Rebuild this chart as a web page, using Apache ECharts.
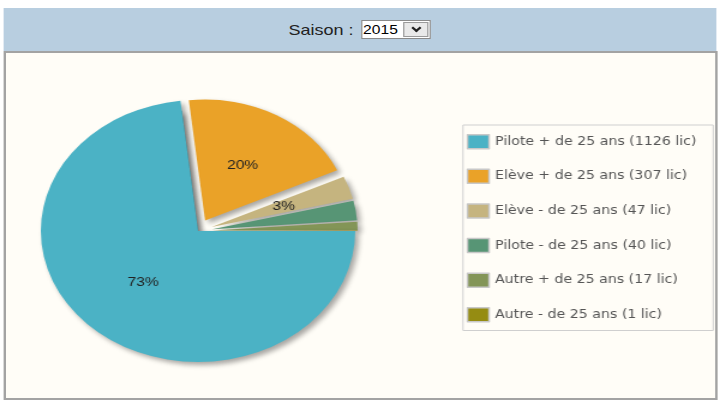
<!DOCTYPE html>
<html>
<head>
<meta charset="utf-8">
<title>Licences par catégorie</title>
<script src="https://cdn.jsdelivr.net/npm/echarts@6/dist/echarts.min.js"></script>
<style>
html, body { margin: 0; padding: 0; background: #fff; overflow: hidden; }
/* the reference is stretched sideways, so the whole page is drawn narrow and widened */
#page { position: absolute; left: 0; top: 0; width: 598px; height: 401px; transform: scaleX(1.2); transform-origin: 0 0; }
#head { position: absolute; left: 2.5px; top: 8px; width: 594px; height: 43px; background: #b8cee0;
	display: flex; align-items: center; justify-content: center;
	font-family: "Liberation Sans", Arial, sans-serif; font-size: 15px; color: #222; }
#head .lbl { margin-right: 6px; }
#head .sel { display: flex; height: 17px; border: 1px solid #8a8a8a; background: #fff; }
#head .val { width: 32px; font-size: 13px; line-height: 17px; padding-left: 1px; color: #000; }
#head .btn { width: 21px; margin: 1px; background: #e9e9e9; border: 1px solid #9a9a9a; box-sizing: border-box; position: relative; }
#head .btn span { position: absolute; left: 7px; top: 2px; width: 4px; height: 4px; border-right: 2px solid #222; border-bottom: 2px solid #222; transform: rotate(45deg); }
#panel { position: absolute; left: 3.3px; top: 51px; width: 594.5px; height: 349px; box-sizing: border-box;
	background: #fffdf7; border: 2px solid #a3a3a3; }
#chart { position: absolute; left: 0; top: 0; width: 598px; height: 401px; }
</style>
</head>
<body>
<div id="page">
	<div id="head">
		<span class="lbl">Saison :</span>
		<div class="sel"><div class="val">2015</div><div class="btn"><span></span></div></div>
	</div>
	<div id="panel"></div>
	<div id="chart"></div>
</div>
<script>
var categories = ['Pilote + de 25 ans', 'Elève + de 25 ans', 'Elève - de 25 ans', 'Pilote - de 25 ans', 'Autre + de 25 ans', 'Autre - de 25 ans'];
var licences = [1126, 307, 47, 40, 17, 1];
var colors = ['#4bb2c5', '#eaa228', '#c5b47f', '#579575', '#839557', '#958c12'];

function legendName(i){
	return categories[i] + ' (' + licences[i] + ' lic)';
}

function pieChart(){
	var dom = document.getElementById('chart');
	var myChart = echarts.init(dom, null, {
		renderer: 'canvas',
		useDirtyRect: false
	});

	var shadow = {
		shadowBlur: 5,
		shadowOffsetX: 3,
		shadowOffsetY: 3,
		shadowColor: 'rgba(0, 0, 0, 0.35)'
	};

	// all slices, pushed out a little from the centre
	var slices = licences.map(function(v, i){
		return { name: legendName(i), value: v, selected: i > 0, itemStyle: { color: colors[i] } };
	});
	// the big slice is drawn again a bit larger on top
	var bigSlice = licences.map(function(v, i){
		if (i === 0) {
			return { name: legendName(i), value: v, itemStyle: { color: colors[i] } };
		}
		return { name: legendName(i), value: v, itemStyle: { color: 'rgba(0,0,0,0)', shadowColor: 'rgba(0,0,0,0)' } };
	});

	var labelStyle = {
		position: 'inside',
		color: '#222',
		fontSize: 13,
		fontFamily: 'Liberation Sans, Arial, sans-serif'
	};

	var option = {
		animation: false,
		legend: {
			orient: 'vertical',
			left: 385.8,
			top: 125,
			padding: [9, 14, 8, 3],
			itemGap: 19.1,
			itemWidth: 18,
			itemHeight: 14,
			icon: 'rect',
			backgroundColor: '#fffdf7',
			borderColor: '#cfcfcf',
			borderWidth: 1,
			selectedMode: false,
			itemStyle: {
				borderColor: '#c8c8c8',
				borderWidth: 1.5,
				shadowBlur: 0,
				shadowOffsetX: 0,
				shadowOffsetY: 0,
				shadowColor: 'rgba(0,0,0,0)'
			},
			textStyle: {
				color: '#555',
				fontSize: 11.8,
				fontFamily: 'DejaVu Sans, Verdana, sans-serif'
			},
			data: categories.map(function(c, i){ return legendName(i); })
		},
		series: [
			{
				type: 'pie',
				center: [165, 231],
				radius: 121,
				startAngle: 0,
				clockwise: true,
				selectedMode: 'multiple',
				selectedOffset: 12,
				data: slices,
				itemStyle: shadow,
				select: { itemStyle: shadow },
				emphasis: { disabled: true },
				labelLine: { show: false },
				label: Object.assign({
					formatter: function(p){
						return (p.dataIndex > 0 && p.percent >= 3) ? Math.round(p.percent) + '%' : '';
					}
				}, labelStyle)
			},
			{
				type: 'pie',
				center: [165, 231],
				radius: 131,
				startAngle: 0,
				clockwise: true,
				silent: true,
				data: bigSlice,
				itemStyle: shadow,
				emphasis: { disabled: true },
				labelLine: { show: false },
				label: Object.assign({
					formatter: function(p){
						return p.dataIndex === 0 ? Math.round(p.percent) + '%' : '';
					}
				}, labelStyle)
			}
		]
	};

	if (option && typeof option === 'object') {
		myChart.setOption(option);
	}
	window.addEventListener('resize', myChart.resize);
}
pieChart()
</script>
</body>
</html>
